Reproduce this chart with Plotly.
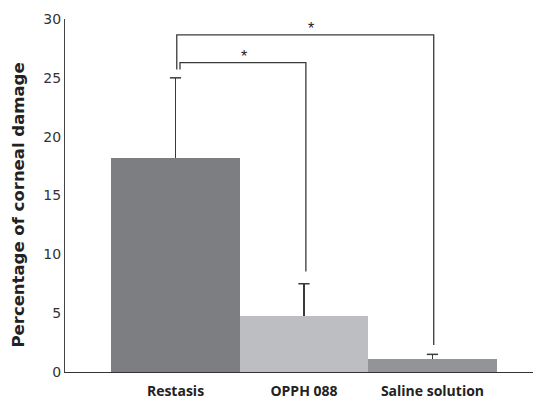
import plotly.graph_objects as go

categories = ["Restasis", "OPPH 088", "Saline solution"]
values = [18.2, 4.75, 1.1]
errors_plus = [6.8, 2.75, 0.4]
bar_colors = ["#7d7e82", "#bdbec2", "#939497"]
y_title = "Percentage of corneal damage"

# significance brackets: (x_left, x_right, y_top, y_left_end, y_right_end, label, label_x)
bracket_outer = [0.01, 2.01, 28.65, 25.7, 2.3, "*", 1.055]
bracket_inner = [0.035, 1.015, 26.3, 25.7, 8.55, "*", 0.53]

x_pos = list(range(len(categories)))
err_tops = [v + e for v, e in zip(values, errors_plus)]

fig = go.Figure()
fig.add_trace(go.Bar(
    x=x_pos, y=values, width=1.0,
    marker=dict(color=bar_colors, line=dict(width=0)),
    error_y=dict(type="data", symmetric=False, array=errors_plus,
                 arrayminus=[0] * len(values), color="#3a3a3a",
                 thickness=1.3, width=0),
    showlegend=False,
))
# caps only at the top of the error bars
fig.add_trace(go.Scatter(
    x=x_pos, y=err_tops, mode="markers",
    marker=dict(symbol="line-ew", size=8, line=dict(color="#3a3a3a", width=1.5)),
    showlegend=False, hoverinfo="skip",
))

for b in [bracket_outer, bracket_inner]:
    xl, xr, yt, yl, yr, lab, lx = b
    fig.add_trace(go.Scatter(
        x=[xl, xl, xr, xr], y=[yl, yt, yt, yr], mode="lines",
        line=dict(color="#3a3a3a", width=1.3), showlegend=False,
        hoverinfo="skip",
    ))
    fig.add_annotation(x=lx, y=yt, text=lab, showarrow=False,
                       yanchor="bottom", yshift=-4,
                       font=dict(size=16, color="#222222", family="Liberation Sans"))

fig.add_annotation(
    xref="paper", yref="paper", x=-0.0966, y=0.4716, text=f"<b>{y_title}</b>",
    textangle=-90, showarrow=False, xanchor="center", yanchor="middle",
    font=dict(size=16.5, color="#222", family="DejaVu Sans"),
)

fig.update_layout(
    width=533, height=391,
    margin=dict(l=57, r=0, t=11, b=27, autoexpand=False),
    plot_bgcolor="white", paper_bgcolor="white",
    font=dict(family="Open Sans", color="#333"),
    bargap=0,
)
fig.update_xaxes(
    range=[-0.86, 2.845], tickvals=x_pos, ticktext=[f"<b>{c}</b>" for c in categories],
    showline=True, linecolor="#333", linewidth=1.3, showgrid=False, zeroline=False,
    ticks="", ticklabelstandoff=6, automargin=False,
    tickfont=dict(size=14, color="#222", family="Open Sans"),
)
fig.update_yaxes(
    range=[0, 30], dtick=5, showline=True, linecolor="#444", linewidth=1.3,
    showgrid=False, zeroline=False, ticks="", automargin=False,
    tickfont=dict(size=14, color="#333", family="DejaVu Sans"),
)

fig.write_html("out.html")
